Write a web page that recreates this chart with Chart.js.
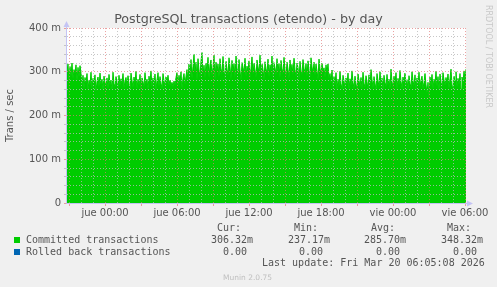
<!DOCTYPE html>
<html lang="en">
<head>
    <meta charset="UTF-8">
    <title>PostgreSQL transactions (etendo) - by day</title>
    <script src="https://cdn.jsdelivr.net/npm/chart.js@4.4.1/dist/chart.umd.min.js"></script>
    <style>
        body {
            margin: 0;
            background-color: #f0f0f0;
        }
        .wrap {
            position: relative;
            width: 497px;
            height: 287px;
            background-color: #f0f0f0;
            font-family: 'DejaVu Sans Mono', monospace;
            font-size: 10px;
            color: #555;
        }
        canvas { position: absolute; left: 0; top: 0; }
        .t { position: absolute; white-space: pre; line-height: 12px; }
        .sq { position: absolute; width: 6px; height: 6px; }
        .brand {
            position: absolute;
            left: 484px;
            top: 5px;
            writing-mode: vertical-rl;
            font-family: 'DejaVu Sans', sans-serif;
            font-size: 8px;
            color: #c8c8c8;
        }
        .munin {
            font-family: 'DejaVu Sans', sans-serif;
            font-size: 7.5px;
            color: #c0c0c0;
        }
    </style>
</head>
<body>
<div class="wrap">
    <canvas id="chart" width="497" height="287"></canvas>
    <div class="brand">RRDTOOL / TOBI OETIKER</div>

    <div class="t" style="left:217px; top:222px;">Cur:</div>
    <div class="t" style="left:294px; top:222px;">Min:</div>
    <div class="t" style="left:371px; top:222px;">Avg:</div>
    <div class="t" style="left:447px; top:222px;">Max:</div>

    <div class="sq" style="left:14px; top:237px; background:#00cc00;"></div>
    <div class="t" style="left:26px; top:234px;">Committed transactions</div>
    <div class="t" style="left:211px; top:234px;">306.32m</div>
    <div class="t" style="left:288px; top:234px;">237.17m</div>
    <div class="t" style="left:364px; top:234px;">285.70m</div>
    <div class="t" style="left:441px; top:234px;">348.32m</div>

    <div class="sq" style="left:14px; top:249px; background:#0066b3;"></div>
    <div class="t" style="left:26px; top:246px;">Rolled back transactions</div>
    <div class="t" style="left:223px; top:246px;">0.00</div>
    <div class="t" style="left:299px; top:246px;">0.00</div>
    <div class="t" style="left:376px; top:246px;">0.00</div>
    <div class="t" style="left:453px; top:246px;">0.00</div>

    <div class="t" style="left:262px; top:257px;">Last update: Fri Mar 20 06:05:08 2026</div>
    <div class="t munin" style="left:223px; top:272px;">Munin 2.0.75</div>
</div>

<script>
    // time axis in hours, 0 = jue 00:00
    const START_HOUR = -3.17;
    const STEP_MIN = 5;

    const tickHours = [0, 6, 12, 18, 24, 30];
    const tickLabels = ['jue 00:00', 'jue 06:00', 'jue 12:00', 'jue 18:00', 'vie 00:00', 'vie 06:00'];

    // committed transactions per second, in milli (m)
    const committed = [
        300, 318, 276, 312, 290, 320, 284, 305, 296, 316, 279, 310, 288, 314, 298, 268, 292, 262, 287, 274,
        296, 258, 281, 270, 299, 262, 285, 276, 293, 255, 278, 288, 266, 297, 271, 283, 259, 290, 275, 268,
        286, 262, 294, 270, 281, 257, 299, 273, 265, 289, 277, 260, 292, 268, 284, 274, 296, 263, 279, 287,
        266, 291, 272, 258, 297, 280, 264, 288, 275, 301, 261, 283, 270, 294, 258, 286, 277, 265, 298, 272,
        283, 260, 290, 276, 302, 265, 286, 271, 295, 259, 281, 298, 267, 289, 274, 262, 296, 279, 268, 288,
        275, 292, 270, 281, 268, 276, 266, 279, 270, 287, 298, 268, 292, 275, 300, 262, 285, 296, 271, 290,
        305, 278, 318, 290, 328, 284, 312, 340, 296, 322, 281, 330, 304, 288, 325, 344, 294, 315, 285, 320,
        298, 333, 286, 316, 327, 291, 310, 338, 282, 322, 301, 318, 288, 330, 307, 295, 335, 303, 284, 324,
        306, 292, 332, 311, 283, 326, 299, 319, 286, 336, 308, 294, 328, 302, 281, 321, 310, 296, 331, 289,
        313, 301, 325, 285, 308, 334, 294, 320, 304, 287, 327, 311, 298, 338, 292, 318, 305, 282, 323, 307,
        296, 329, 288, 316, 302, 336, 285, 321, 309, 293, 330, 300, 319, 286, 326, 307, 295, 333, 303, 290,
        322, 306, 284, 327, 299, 317, 292, 331, 305, 288, 320, 310, 282, 324, 301, 294, 328, 308, 296, 319,
        289, 325, 304, 286, 332, 311, 297, 322, 292, 318, 302, 283, 329, 307, 293, 320, 300, 309, 287, 316,
        298, 318, 285, 296, 275, 304, 262, 289, 270, 298, 258, 283, 266, 301, 273, 260, 292, 279, 263, 286,
        271, 297, 259, 284, 268, 302, 276, 262, 290, 272, 257, 295, 280, 266, 287, 261, 299, 274, 264, 291,
        277, 260, 293, 268, 305, 282, 263, 289, 274, 258, 296, 279, 267, 300, 271, 286, 259, 292, 276, 265,
        294, 270, 283, 261, 306, 277, 264, 290, 273, 298, 260, 285, 269, 303, 278, 262, 288, 275, 297, 266,
        282, 259, 291, 274, 263, 300, 279, 268, 293, 257, 286, 272, 299, 265, 281, 290, 262, 276, 296, 270,
        252, 276, 240, 288, 268, 294, 261, 283, 272, 301, 266, 289, 258, 295, 277, 264, 298, 281, 269, 287,
        273, 295, 262, 284, 306, 270, 258, 290, 279, 300, 265, 285, 271, 296, 260, 288, 276, 302, 282, 306
    ];
    const rolledBack = committed.map(() => 0);

    const GRID_GREY = 'rgba(185,185,185,0.8)';
    const GRID_RED = 'rgba(225,120,120,0.7)';
    const AXIS = '#c4c4f4';

    const points = arr => arr.map((v, i) => ({ x: START_HOUR + i * STEP_MIN / 60, y: v }));
    const endHour = START_HOUR + (committed.length - 1) * STEP_MIN / 60;

    const munin = {
        id: 'munin',
        beforeDraw(chart) {
            const { ctx, chartArea: a } = chart;
            ctx.save();
            ctx.fillStyle = '#ffffff';
            ctx.fillRect(a.left, a.top, a.right - a.left, a.bottom - a.top);
            ctx.restore();
        },
        afterDraw(chart) {
            const { ctx, chartArea: a } = chart;
            ctx.save();
            ctx.strokeStyle = AXIS;
            ctx.lineWidth = 1;
            ctx.beginPath();
            ctx.moveTo(a.left - 0.5, a.bottom + 0.5);
            ctx.lineTo(a.left - 0.5, a.top - 2);
            ctx.moveTo(a.left - 0.5, a.bottom + 0.5);
            ctx.lineTo(a.right + 2, a.bottom + 0.5);
            ctx.stroke();
            ctx.fillStyle = AXIS;
            // arrow on y axis
            ctx.beginPath();
            ctx.moveTo(a.left - 3.5, a.top - 1);
            ctx.lineTo(a.left + 2.5, a.top - 1);
            ctx.lineTo(a.left - 0.5, a.top - 7);
            ctx.fill();
            // arrow on x axis
            ctx.beginPath();
            ctx.moveTo(a.right + 1, a.bottom - 2.5);
            ctx.lineTo(a.right + 1, a.bottom + 3.5);
            ctx.lineTo(a.right + 7, a.bottom + 0.5);
            ctx.fill();
            ctx.restore();
        }
    };

    new Chart(document.getElementById('chart'), {
        type: 'line',
        data: {
            datasets: [{
                label: 'Committed transactions',
                data: points(committed),
                backgroundColor: '#00cc00',
                borderColor: '#00cc00',
                borderWidth: 1,
                fill: 'origin',
                pointRadius: 0,
                tension: 0
            }, {
                label: 'Rolled back transactions',
                data: points(rolledBack),
                borderColor: '#0066b3',
                backgroundColor: '#0066b3',
                hidden: true,
                pointRadius: 0
            }]
        },
        options: {
            responsive: false,
            animation: false,
            layout: { padding: 0 },
            plugins: {
                legend: { display: false },
                tooltip: { enabled: false },
                title: {
                    display: true,
                    text: 'PostgreSQL transactions (etendo) - by day',
                    color: '#555',
                    font: { family: 'DejaVu Sans', size: 12.7, weight: 'normal' },
                    padding: { top: 12.4, bottom: 0.4 }
                }
            },
            scales: {
                x: {
                    type: 'linear',
                    min: START_HOUR,
                    max: endHour,
                    afterFit(scale) { scale.height = 84; },
                    afterBuildTicks(scale) {
                        const t = [];
                        for (let h = Math.ceil(START_HOUR); h <= Math.floor(endHour); h++) t.push({ value: h });
                        scale.ticks = t;
                    },
                    grid: {
                        z: 1,
                        lineWidth: 1,
                        tickLength: 3,
                        color: ctx => (ctx.tick && ctx.tick.value % 3 === 0) ? GRID_RED : GRID_GREY,
                        tickColor: ctx => (ctx.tick && ctx.tick.value % 3 === 0) ? GRID_RED : 'rgba(0,0,0,0)'
                    },
                    border: { display: false, dash: [1, 2] },
                    ticks: {
                        autoSkip: false,
                        maxRotation: 0,
                        padding: 1,
                        color: '#555',
                        font: { family: 'DejaVu Sans', size: 10 },
                        callback: v => {
                            const i = tickHours.indexOf(v);
                            return i >= 0 ? tickLabels[i] : '';
                        }
                    }
                },
                y: {
                    min: 0,
                    max: 400,
                    afterFit(scale) { scale.width = 67; },
                    grid: {
                        z: 1,
                        lineWidth: 1,
                        tickLength: 3,
                        color: ctx => (ctx.tick && ctx.tick.value % 100 === 0) ? GRID_RED : GRID_GREY,
                        tickColor: ctx => (ctx.tick && ctx.tick.value % 100 === 0) ? GRID_RED : GRID_GREY
                    },
                    border: { display: false, dash: [1, 2] },
                    ticks: {
                        stepSize: 20,
                        autoSkip: false,
                        padding: 3,
                        color: '#555',
                        font: { family: 'DejaVu Sans', size: 10 },
                        callback: v => v % 100 === 0 ? (v === 0 ? '0' : v + ' m') : ''
                    },
                    title: {
                        display: true,
                        text: 'Trans / sec',
                        color: '#555',
                        font: { family: 'DejaVu Sans', size: 10 },
                        padding: { top: 4, bottom: 0 }
                    }
                },
                // empty right-hand space, as in the munin image
                yRight: {
                    position: 'right',
                    min: 0,
                    max: 400,
                    afterFit(scale) { scale.width = 31; },
                    grid: { display: false },
                    border: { display: false },
                    ticks: { display: false }
                }
            }
        },
        plugins: [munin]
    });
</script>
</body>
</html>
